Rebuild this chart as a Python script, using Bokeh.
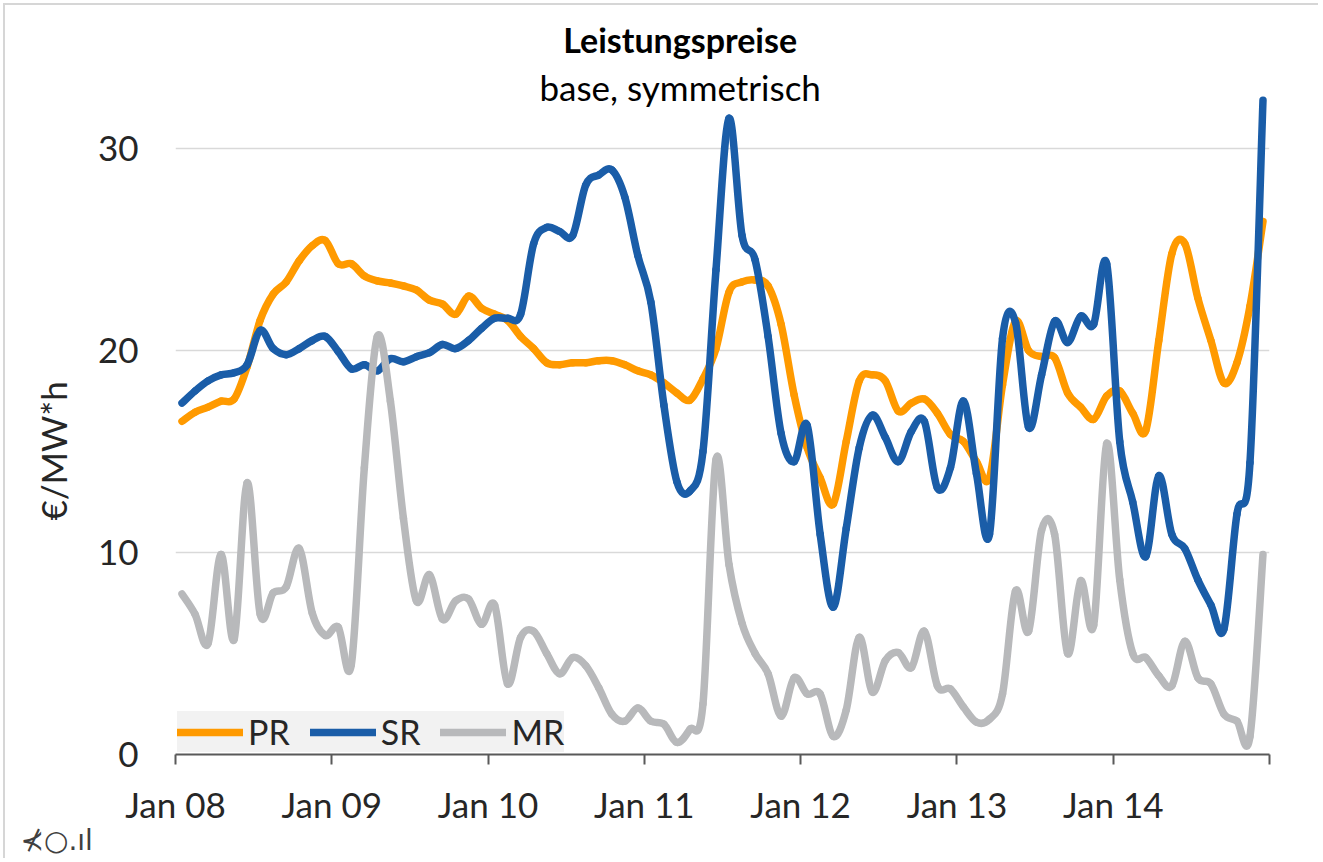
from bokeh.plotting import figure
from bokeh.models import Range1d, FixedTicker, Label, Legend, LegendItem, Title
from bokeh.embed import file_html
from bokeh.resources import INLINE
import numpy as np

# ---------------- data ----------------
title_text = "Leistungspreise"
subtitle_text = "base, symmetrisch"
y_label_text = "€/MW*h"
series_names = ["PR", "SR", "MR"]
year_labels = ["Jan 08", "Jan 09", "Jan 10", "Jan 11", "Jan 12", "Jan 13", "Jan 14"]

# monthly values, Jan 2008 .. Dec 2014 (€/MW*h)
pr = [16.5, 16.95, 17.2, 17.5, 17.6, 19.2, 21.5, 22.8, 23.4, 24.45, 25.2, 25.45,
      24.3, 24.3, 23.7, 23.45, 23.35, 23.2, 23.0, 22.5, 22.3, 21.8, 22.7, 22.1,
      21.8, 21.5, 20.7, 20.1, 19.4, 19.3, 19.4, 19.4, 19.5, 19.5, 19.3, 19.0,
      18.8, 18.4, 17.9, 17.55, 18.6, 20.1, 22.9, 23.4, 23.5, 23.2, 21.3, 17.8,
      15.2, 13.7, 12.4, 15.5, 18.5, 18.8, 18.5, 17.0, 17.4, 17.6, 16.9, 15.85,
      15.5, 14.5, 13.7, 18.3, 21.45, 20.0, 19.7, 19.65, 17.9, 17.2, 16.6, 17.75,
      18.0, 16.9, 16.05, 20.5, 24.8, 25.3, 22.6, 20.5, 18.4, 19.4, 22.2, 26.4]
sr = [17.4, 18.0, 18.5, 18.8, 18.9, 19.3, 21.0, 20.1, 19.8, 20.1, 20.5, 20.7,
      19.95, 19.1, 19.3, 19.0, 19.6, 19.45, 19.7, 19.9, 20.3, 20.1, 20.5, 21.1,
      21.6, 21.6, 21.8, 25.3, 26.1, 25.9, 25.7, 28.2, 28.7, 28.95, 27.6, 24.7,
      22.4, 17.3, 13.5, 13.05, 15.0, 24.0, 31.5, 25.7, 24.5, 20.7, 15.9, 14.5,
      16.3, 10.9, 7.3, 11.2, 15.2, 16.8, 15.7, 14.5, 16.0, 16.5, 13.2, 14.2,
      17.5, 13.9, 10.9, 20.6, 21.4, 16.2, 18.8, 21.45, 20.4, 21.7, 21.3, 24.3,
      15.5, 12.5, 9.8, 13.8, 10.9, 10.2, 8.65, 7.4, 6.2, 11.9, 14.45, 32.4]
mr = [7.95, 6.95, 5.5, 9.9, 5.7, 13.45, 6.95, 8.0, 8.3, 10.2, 7.0, 5.9,
      6.3, 4.45, 14.2, 20.7, 17.5, 11.7, 7.6, 8.9, 6.7, 7.6, 7.7, 6.45,
      7.4, 3.5, 5.8, 6.1, 5.0, 4.0, 4.8, 4.4, 3.3, 2.0, 1.65, 2.3,
      1.65, 1.5, 0.6, 1.25, 2.5, 14.6, 9.4, 6.5, 5.0, 4.0, 1.9, 3.8,
      3.0, 3.0, 0.9, 2.2, 5.8, 3.1, 4.65, 5.05, 4.3, 6.1, 3.4, 3.25,
      2.35, 1.6, 1.75, 3.0, 8.1, 6.1, 11.1, 10.9, 5.0, 8.6, 6.4, 15.4,
      8.65, 5.0, 4.8, 3.9, 3.4, 5.6, 3.8, 3.5, 2.0, 1.65, 0.9, 9.9]

colors = ["#FF9A00", "#1A5DA8", "#B8B9BB"]

# months since Jan 2008, values plotted mid-month
months = np.arange(len(pr)) + 0.5
year_ticks = [12 * i for i in range(len(year_labels) + 1)]

FONT = "Lato"
TXT = "#262626"


def smooth_segments(x, y):
    """Bezier control points (Excel-like smoothed line) through the data points."""
    x = np.asarray(x, float)
    y = np.asarray(y, float)
    xp = np.concatenate([[x[0]], x, [x[-1]]])
    yp = np.concatenate([[y[0]], y, [y[-1]]])
    x0, y0 = xp[1:-2], yp[1:-2]
    x1, y1 = xp[2:-1], yp[2:-1]
    cx0 = x0 + (x1 - xp[:-3]) / 6.0
    cy0 = y0 + (y1 - yp[:-3]) / 6.0
    cx1 = x1 - (xp[3:] - x0) / 6.0
    cy1 = y1 - (yp[3:] - y0) / 6.0
    return dict(x0=x0, y0=y0, x1=x1, y1=y1, cx0=cx0, cy0=cy0, cx1=cx1, cy1=cy1)


p = figure(width=1315, height=855, output_backend="svg", toolbar_location=None,
           title=None, x_range=Range1d(0, 84), y_range=Range1d(0, 36),
           min_border_left=170, min_border_right=51, min_border_top=22,
           min_border_bottom=106)
p.margin = (3, 0, 0, 3)
p.styles = {"border-top": "2px solid #d6d6d6", "border-left": "2px solid #d6d6d6"}
p.outline_line_color = None
p.background_fill_color = "white"
p.border_fill_color = "white"

# grid
p.xgrid.grid_line_color = None
p.ygrid.ticker = FixedTicker(ticks=[10, 20, 30])
p.ygrid.grid_line_color = "#d9d9d9"
p.ygrid.grid_line_width = 1.5

# y axis
p.yaxis.ticker = FixedTicker(ticks=[0, 10, 20, 30])
p.yaxis.axis_line_color = None
p.yaxis.major_tick_line_color = None
p.yaxis.minor_tick_line_color = None
p.yaxis.major_label_standoff = 31
p.yaxis.major_label_text_font = FONT
p.yaxis.major_label_text_font_size = "35px"
p.yaxis.major_label_text_color = TXT

# x axis
p.xaxis.ticker = FixedTicker(ticks=year_ticks)
overrides = {t: (year_labels[i] if i < len(year_labels) else "") for i, t in enumerate(year_ticks)}
p.xaxis.major_label_overrides = overrides
p.xaxis.axis_line_color = "#595959"
p.xaxis.axis_line_width = 2
p.xaxis.major_tick_line_color = "#595959"
p.xaxis.major_tick_line_width = 2
p.xaxis.major_tick_in = 0
p.xaxis.major_tick_out = 10
p.xaxis.minor_tick_line_color = None
p.xaxis.major_label_standoff = 18
p.xaxis.major_label_text_font = FONT
p.xaxis.major_label_text_font_size = "35px"
p.xaxis.major_label_text_color = TXT

renderers = []
for name, vals, col in zip(series_names, [pr, sr, mr], colors):
    seg = smooth_segments(months, vals)
    r = p.bezier(x0=seg["x0"], y0=seg["y0"], x1=seg["x1"], y1=seg["y1"],
                 cx0=seg["cx0"], cy0=seg["cy0"], cx1=seg["cx1"], cy1=seg["cy1"],
                 line_color=col, line_width=7.5, line_cap="round")
    renderers.append((name, r))

legend = Legend(items=[LegendItem(label=n, renderers=[r]) for n, r in renderers],
                location=(2, 2), orientation="horizontal",
                background_fill_color="#f2f2f2", background_fill_alpha=1.0,
                border_line_color=None, glyph_width=66, glyph_height=28,
                label_standoff=5, spacing=20, padding=14, margin=0,
                label_text_font=FONT, label_text_font_size="34px",
                label_text_color=TXT, label_height=26)
p.add_layout(legend)

# titles
p.add_layout(Label(x=38.75, y=35.4, text=title_text, text_align="center",
                   text_baseline="middle", text_font=FONT,
                   text_font_style="bold", text_font_size="34px", text_color="black"))
p.add_layout(Label(x=38.75, y=33.05, text=subtitle_text, text_align="center",
                   text_baseline="middle", text_font=FONT,
                   text_font_size="35px", text_color="black"))

# y axis title
p.add_layout(Title(text=y_label_text, align="left", offset=234, standoff=42,
                   text_font=FONT, text_font_style="normal",
                   text_font_size="35px", text_color=TXT), "left")
# small mark bottom-left
p.add_layout(Title(text="⊀○.ıl", align="left", offset=-155, standoff=-12,
                   text_font="DejaVu Sans", text_font_style="normal",
                   text_font_size="28px", text_color="#404040"), "below")

open("out.html", "w").write(file_html(p, INLINE))
